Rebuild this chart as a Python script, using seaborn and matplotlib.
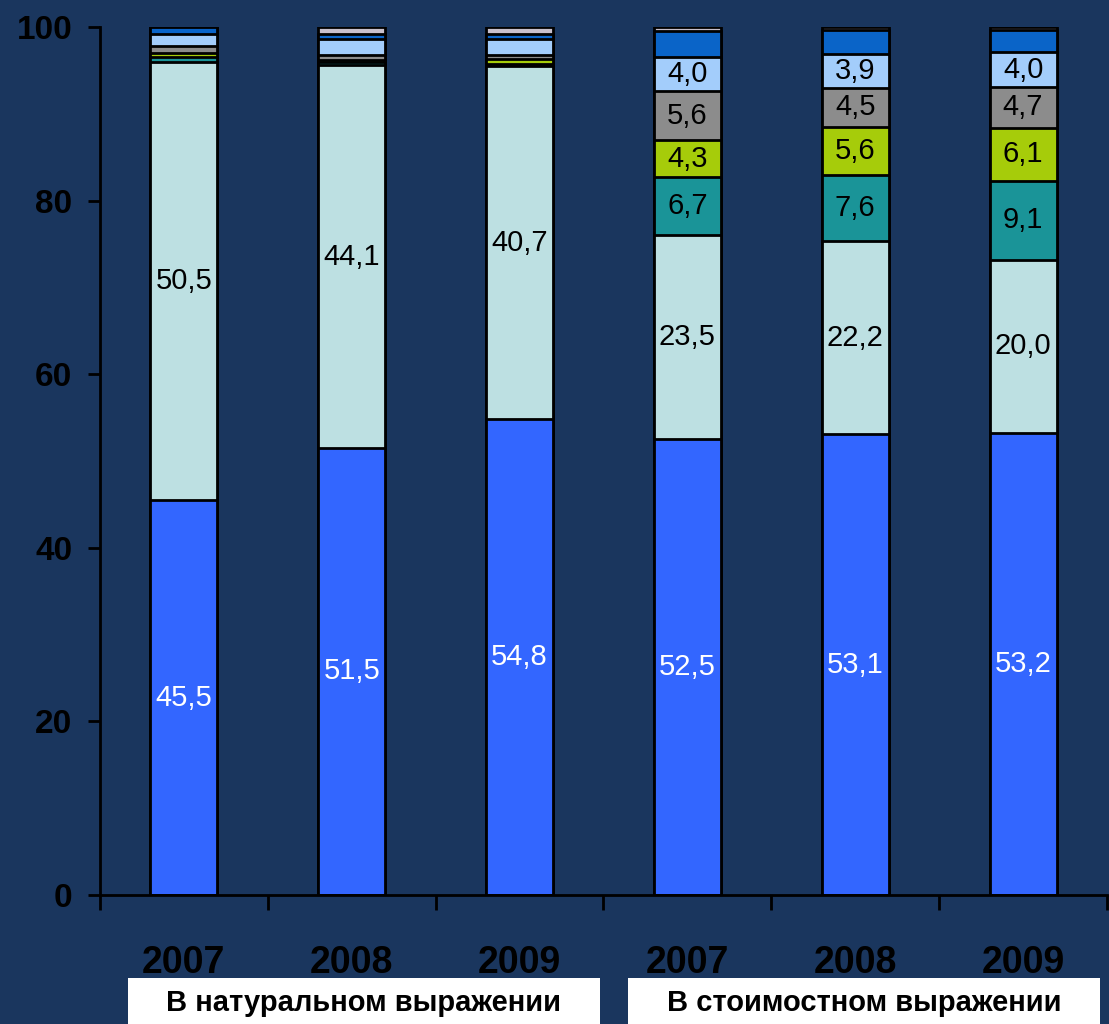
import numpy as np
import pandas as pd
import seaborn as sns
import matplotlib.pyplot as plt
from matplotlib.patches import Rectangle

sns.set_style("ticks")
plt.rcParams['font.family'] = ['Liberation Sans', 'DejaVu Sans']

# bars, left to right
keys = ["n2007", "n2008", "n2009", "v2007", "v2008", "v2009"]
years = ["2007", "2008", "2009", "2007", "2008", "2009"]
group_titles = ["В натуральном выражении", "В стоимостном выражении"]

# segments, bottom to top (% share)
seg_blue = [45.5, 51.5, 54.8, 52.5, 53.1, 53.2]
seg_cyan = [50.5, 44.1, 40.7, 23.5, 22.2, 20.0]
seg_teal = [0.5, 0.4, 0.2, 6.7, 7.6, 9.1]
seg_green = [0.5, 0.2, 0.6, 4.3, 5.6, 6.1]
seg_gray = [0.8, 0.6, 0.5, 5.6, 4.5, 4.7]
seg_lblue = [1.4, 1.8, 1.8, 4.0, 3.9, 4.0]
seg_dblue = [0.8, 0.6, 0.6, 2.9, 2.7, 2.5]
seg_top = [0.0, 0.8, 0.8, 0.5, 0.4, 0.4]

# which bars get a value label for each segment
show_natural = [True, True, True, False, False, False]
show_value = [not s for s in show_natural]
show_all = [True] * 6
show_none = [False] * 6

segments = [
    ("blue", seg_blue, "#3366ff", "white", show_all),
    ("cyan", seg_cyan, "#bde0e2", "black", show_all),
    ("teal", seg_teal, "#1a9498", "black", show_value),
    ("green", seg_green, "#a6cc0a", "black", show_value),
    ("gray", seg_gray, "#8c8c8c", "black", show_value),
    ("lblue", seg_lblue, "#a3cdfb", "black", show_value),
    ("dblue", seg_dblue, "#0a64c8", "black", show_none),
    ("top", seg_top, "#c8c0cc", "black", show_none),
]

bg = "#1a365e"

df = pd.DataFrame({"key": keys, "year": years})
cum = np.zeros(len(keys))
for name, vals, col, tcol, show in segments:
    df[name] = vals
    df[name + "_lo"] = cum.copy()
    cum = cum + np.array(vals)
    df[name + "_hi"] = cum.copy()

fig = plt.figure(figsize=(11.09, 10.24), dpi=100, facecolor=bg)
ax = fig.add_axes([100 / 1109, 129 / 1024, 1007 / 1109, 868 / 1024])
ax.set_facecolor(bg)

# stacked bars: draw cumulative totals from the top layer down
for name, vals, col, tcol, show in reversed(segments):
    sns.barplot(data=df, x="key", y=name + "_hi", order=keys, color=col,
                saturation=1, width=0.4, edgecolor="black", linewidth=2,
                errorbar=None, ax=ax)

for name, vals, col, tcol, show in segments:
    for i in range(len(keys)):
        if show[i]:
            mid = (df[name + "_lo"][i] + df[name + "_hi"][i]) / 2
            ax.text(i, mid, f"{vals[i]:.1f}".replace(".", ","), ha="center",
                    va="center", color=tcol, fontsize=21)

ax.set_ylim(0, 100)
ax.set_xlim(-0.5, 5.5)
ax.set_yticks(range(0, 101, 20))
ax.set_xticks(range(6))
ax.set_xticklabels(years)
ax.set_xticks(np.arange(-0.5, 6, 1), minor=True)
ax.set_xlabel("")
ax.set_ylabel("")
ax.grid(False)

for lab in ax.get_yticklabels():
    lab.set_fontweight("bold")
for lab in ax.get_xticklabels():
    lab.set_fontweight("bold")

ax.tick_params(axis="y", length=9, width=2, color="black", pad=11,
               labelsize=24, labelcolor="black")
ax.tick_params(axis="x", which="major", length=0, pad=36, labelsize=27,
               labelcolor="black")
ax.tick_params(axis="x", which="minor", length=11, width=2, color="black")

sns.despine(ax=ax)
for side in ["left", "bottom"]:
    ax.spines[side].set_color("black")
    ax.spines[side].set_linewidth(2)

# group captions in white boxes under the axis
for x0, x1, title in [(128, 600, group_titles[0]), (628, 1100, group_titles[1])]:
    fig.patches.append(Rectangle((x0 / 1109, 0), (x1 - x0) / 1109, 46 / 1024,
                                 transform=fig.transFigure, facecolor="white",
                                 edgecolor="none"))
    fig.text((x0 + x1) / 2 / 1109, 21 / 1024, title, ha="center", va="center",
             fontsize=21, fontweight="bold", color="black")

fig.savefig("out.png", dpi=100, facecolor=bg)
